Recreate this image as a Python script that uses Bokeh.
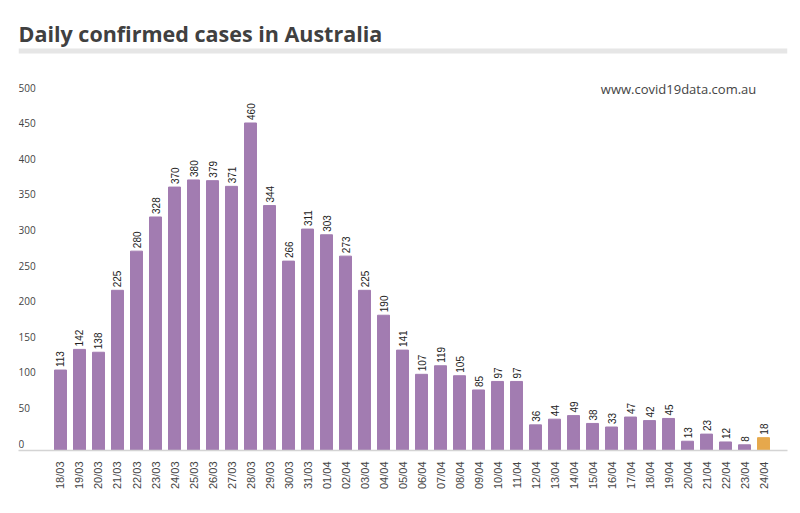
import math
from bokeh.plotting import figure
from bokeh.models import Range1d, FixedTicker, Span, Label, ColumnDataSource
from bokeh.core.properties import value
from bokeh.embed import file_html
from bokeh.resources import INLINE

dates = ["18/03", "19/03", "20/03", "21/03", "22/03", "23/03", "24/03", "25/03",
         "26/03", "27/03", "28/03", "29/03", "30/03", "31/03", "01/04", "02/04",
         "03/04", "04/04", "05/04", "06/04", "07/04", "08/04", "09/04", "10/04",
         "11/04", "12/04", "13/04", "14/04", "15/04", "16/04", "17/04", "18/04",
         "19/04", "20/04", "21/04", "22/04", "23/04", "24/04"]
cases = [113, 142, 138, 225, 280, 328, 370, 380, 379, 371, 460, 344, 266, 311,
         303, 273, 225, 190, 141, 107, 119, 105, 85, 97, 97, 36, 44, 49, 38, 33,
         47, 42, 45, 13, 23, 12, 8, 18]
y_ticks = [0, 50, 100, 150, 200, 250, 300, 350, 400, 450, 500]
title_text = "Daily confirmed cases in Australia"
source_text = "www.covid19data.com.au"

PURPLE = "#a27cb1"
ORANGE = "#e6a84c"

idx = list(range(len(dates)))
colors = [PURPLE] * (len(dates) - 1) + [ORANGE]

X0 = -2.2105
X1 = 38.263
Y1 = 620.8

p = figure(width=792, height=505, output_backend="svg", toolbar_location=None,
           x_range=Range1d(X0, X1), y_range=Range1d(0, Y1),
           min_border_left=18, min_border_right=5, min_border_top=8,
           min_border_bottom=55)
p.outline_line_color = None
p.grid.visible = False
p.yaxis.visible = False

src = ColumnDataSource(dict(x=idx, top=cases, color=colors,
                            lab=[str(v) for v in cases]))
p.vbar(x="x", top="top", width=0.63, color="color", source=src)
p.text(x="x", y="top", text="lab", source=src, angle=math.pi / 2,
       text_align="left", text_baseline="middle", y_offset=-3,
       text_font=value("Liberation Sans"), text_font_size="10px",
       text_color="#222222")

# y tick labels
p.text(x=[X0] * len(y_ticks), y=y_ticks, text=[str(t) for t in y_ticks],
       text_align="left", text_baseline="middle", y_offset=-7,
       text_font=value("Open Sans"), text_font_size="10px", text_color="#444444")

ax = p.xaxis[0]
ax.ticker = FixedTicker(ticks=idx)
ax.major_label_overrides = {i: d for i, d in enumerate(dates)}
ax.major_label_orientation = math.pi / 2
ax.major_label_text_font = "Liberation Sans"
ax.major_label_text_font_size = "11px"
ax.major_label_text_color = "#444444"
ax.major_label_standoff = 5
ax.major_tick_line_color = None
ax.minor_tick_line_color = None
ax.axis_line_color = "#d4d4d4"
ax.axis_line_width = 1.5

p.add_layout(Span(location=561.1, dimension="width", line_color="#e6e6e6",
                  line_width=5))
p.add_layout(Label(x=X0, y=585.7, text=title_text, text_font="Open Sans",
                   text_font_style="bold", text_font_size="21.5px",
                   text_color="#404040", text_baseline="alphabetic"))
p.add_layout(Label(x=36.62, y=(450 - 88) / 0.712, text=source_text,
                   text_font="Open Sans", text_font_size="13px",
                   text_color="#444444", text_align="right",
                   text_baseline="middle"))

open("out.html", "w").write(file_html(p, INLINE))
